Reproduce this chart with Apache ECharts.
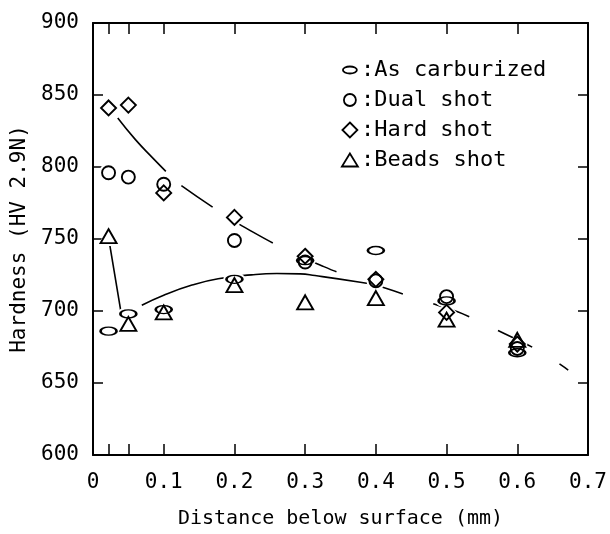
<!DOCTYPE html>
<html><head><meta charset="utf-8">
<script src="https://cdn.jsdelivr.net/npm/echarts@6/dist/echarts.min.js"></script>
<style>html,body{margin:0;padding:0;background:#fff}#c{width:610px;height:534px}</style>
</head><body><div id="c"></div>
<script>
// ---- data ----
const depths = [0.022, 0.05, 0.1, 0.2, 0.3, 0.4, 0.5, 0.6];
const asCarburized = [686, 698, 701, 722, 735, 742, 707, 671];
const dualShot     = [796, 793, 788, 749, 734, 721, 710, 674];
const hardShot     = [841, 843, 782, 765, 738, 722, 699, 677];
const beadsShot    = [752, 691, 699, 718, 706, 709, 694, 680];

// hand-drawn trend curves (data space)
const upperSolidX = [0.035, 0.06, 0.085, 0.103];
const upperSolidY = [834, 819, 806, 797];
const upperDashX = [0.125, 0.177, 0.227, 0.281, 0.325, 0.359, 0.4, 0.45, 0.5, 0.523, 0.583, 0.628, 0.672];
const upperDashY = [787, 769.6, 754.6, 740.8, 731.1, 724.6, 718, 710, 702, 698, 684, 673, 659];
const beadsDropX = [0.023, 0.04];
const beadsDropY = [748, 698];
const lowerX = [0.069, 0.1, 0.14, 0.177, 0.224, 0.26, 0.293, 0.314, 0.378, 0.4];
const lowerY = [704, 711, 718, 722.4, 725.1, 726, 725.8, 724.6, 720, 718];

const xTickLabels = [0, 0.1, 0.2, 0.3, 0.4, 0.5, 0.6, 0.7];
const xTickMarks = [0.022, 0.05, 0.1, 0.2, 0.3, 0.4, 0.5, 0.6];
const yTickLabels = [600, 650, 700, 750, 800, 850, 900];

const seriesNames = ['As carburized', 'Dual shot', 'Hard shot', 'Beads shot'];
const seriesValues = [asCarburized, dualShot, hardShot, beadsShot];

// ---- styling ----
const FONT = 'DejaVu Sans Mono';
const ELLIPSE = 'path://M-10,0A10,10,0,1,1,10,0A10,10,0,1,1,-10,0Z';
const symbols = [ELLIPSE, 'circle', 'diamond', 'triangle'];
const sizes = [[16, 8], 13, [15, 15], [16, 14]];
const legendIcons = [
  'path://M-8,-8M8,8M-7,0A7,3.5,0,1,1,7,0A7,3.5,0,1,1,-7,0Z',
  'path://M-8,-8M8,8M-6,0A6,6,0,1,1,6,0A6,6,0,1,1,-6,0Z',
  'path://M-8,-8M8,8M0,-7.5L7.5,0L0,7.5L-7.5,0Z',
  'path://M-8,-8M8,8M0,-6.5L8,6.5L-8,6.5Z'
];

function pairs(xs, ys) { return xs.map((x, i) => [x, ys[i]]); }
function grow(s) { return Array.isArray(s) ? [s[0] + 6, s[1] + 6] : s + 6; }

const series = [];
// curves
series.push({ type: 'line', data: pairs(upperSolidX, upperSolidY), smooth: true, symbol: 'none', z: 1, silent: true,
  lineStyle: { color: '#000', width: 1.6 } });
series.push({ type: 'line', data: pairs(upperDashX, upperDashY), smooth: true, symbol: 'none', z: 1, silent: true,
  lineStyle: { color: '#000', width: 1.6, type: [38, 32] } });
series.push({ type: 'line', data: pairs(beadsDropX, beadsDropY), smooth: false, symbol: 'none', z: 1, silent: true,
  lineStyle: { color: '#000', width: 1.6 } });
series.push({ type: 'line', data: pairs(lowerX, lowerY), smooth: true, symbol: 'none', z: 1, silent: true,
  lineStyle: { color: '#000', width: 1.6 } });
// white underlays (break the curves around markers)
seriesValues.forEach((vals, k) => {
  series.push({ type: 'scatter', name: '_u' + k, data: pairs(depths, vals), symbol: symbols[k], symbolSize: grow(sizes[k]),
    z: 2, silent: true, itemStyle: { color: '#fff', borderWidth: 0, opacity: 1 } });
});
// markers
seriesValues.forEach((vals, k) => {
  series.push({ type: 'scatter', name: seriesNames[k], data: pairs(depths, vals), symbol: symbols[k], symbolSize: sizes[k],
    z: 3, itemStyle: { color: 'rgba(255,255,255,0)', borderColor: '#000', borderWidth: 1.9, opacity: 1 } });
});

const axisLine = { show: true, onZero: false, lineStyle: { color: '#000', width: 2 } };
const option = {
  animation: false,
  backgroundColor: '#fff',
  grid: { left: 93, right: 22, top: 23, bottom: 77 },
  legend: {
    orient: 'vertical', left: 336, top: 54, itemGap: 8,
    itemWidth: 16, itemHeight: 16,
    data: seriesNames.map((n, k) => ({ name: n, icon: legendIcons[k] })),
    formatter: n => ':' + n,
    textStyle: { fontFamily: FONT, fontSize: 22, color: '#000', padding: [0, 0, 0, -2] },
    itemStyle: { color: 'rgba(255,255,255,0)', borderColor: '#000', borderWidth: 1.8 },
    selectedMode: false
  },
  xAxis: [
    { type: 'value', position: 'bottom', min: 0, max: 0.7, interval: 0.1,
      axisLine, splitLine: { show: false },
      axisTick: { show: true, inside: true, length: 11, customValues: xTickMarks, lineStyle: { color: '#000', width: 1.5 } },
      axisLabel: { customValues: xTickLabels, formatter: v => v === 0 ? '0' : v.toFixed(1), fontFamily: FONT, fontSize: 21, color: '#000', margin: 17 },
      name: 'Distance below surface (mm)', nameLocation: 'middle', nameGap: 54,
      nameTextStyle: { fontFamily: FONT, fontSize: 20, color: '#000' } },
    { type: 'value', position: 'top', min: 0, max: 0.7, interval: 0.1,
      axisLine, splitLine: { show: false },
      axisTick: { show: true, inside: true, length: 11, customValues: xTickMarks, lineStyle: { color: '#000', width: 1.5 } },
      axisLabel: { show: false } }
  ],
  yAxis: [
    { type: 'value', position: 'left', min: 600, max: 900, interval: 50,
      axisLine, splitLine: { show: false },
      axisTick: { show: true, inside: true, length: 10, lineStyle: { color: '#000', width: 1.5 } },
      axisLabel: { customValues: yTickLabels, fontFamily: FONT, fontSize: 21, color: '#000', margin: 14 },
      name: 'Hardness (HV 2.9N)', nameLocation: 'middle', nameRotate: 90, nameGap: 60,
      nameTextStyle: { fontFamily: FONT, fontSize: 21, color: '#000' } },
    { type: 'value', position: 'right', min: 600, max: 900, interval: 50,
      axisLine, splitLine: { show: false },
      axisTick: { show: true, inside: true, length: 10, lineStyle: { color: '#000', width: 1.5 } },
      axisLabel: { show: false } }
  ],
  series
};
const chart = echarts.init(document.getElementById('c'), null, { renderer: 'canvas' });
chart.setOption(option);
</script>
</body></html>
